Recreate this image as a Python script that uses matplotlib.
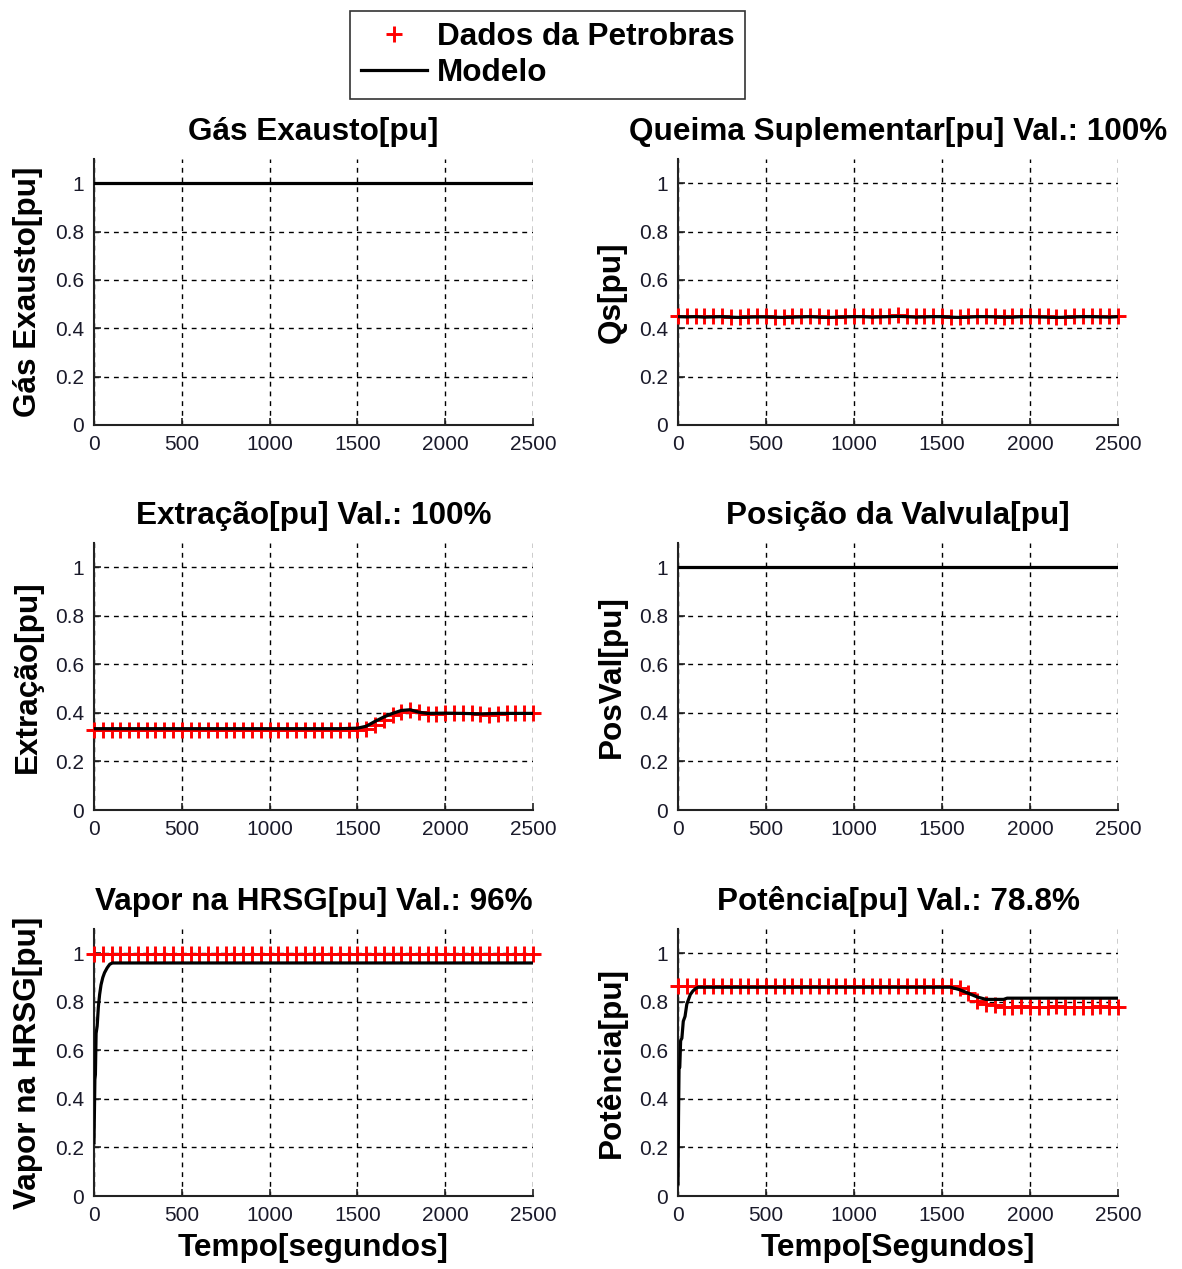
import matplotlib
matplotlib.use("Agg")
import matplotlib.pyplot as plt
from matplotlib.lines import Line2D

plt.rcParams['font.family'] = ['Liberation Sans', 'DejaVu Sans']

# Sample instants of the plant measurements [s]
t_data = [0, 50, 100, 150, 200, 250, 300, 350, 400, 450,
          500, 550, 600, 650, 700, 750, 800, 850, 900, 950,
          1000, 1050, 1100, 1150, 1200, 1250, 1300, 1350, 1400, 1450,
          1500, 1550, 1600, 1650, 1700, 1750, 1800, 1850, 1900, 1950,
          2000, 2050, 2100, 2150, 2200, 2250, 2300, 2350, 2400, 2450, 2500]

# Gas exhaust (model only)
gas_t = [0, 2500]
gas_model = [1.0, 1.0]

# Supplementary firing
qs_data = [0.452, 0.450, 0.451, 0.449, 0.450, 0.452, 0.448, 0.447, 0.449, 0.451,
           0.450, 0.448, 0.446, 0.449, 0.450, 0.451, 0.449, 0.447, 0.448, 0.450,
           0.452, 0.451, 0.449, 0.450, 0.452, 0.453, 0.451, 0.449, 0.450, 0.452,
           0.451, 0.448, 0.447, 0.449, 0.451, 0.452, 0.450, 0.448, 0.449, 0.451,
           0.452, 0.450, 0.449, 0.447, 0.448, 0.450, 0.451, 0.452, 0.450, 0.449, 0.451]
qs_model = [0.448, 0.447, 0.448, 0.446, 0.447, 0.448, 0.446, 0.445, 0.446, 0.447,
            0.447, 0.446, 0.445, 0.446, 0.447, 0.448, 0.446, 0.445, 0.446, 0.447,
            0.448, 0.448, 0.446, 0.447, 0.448, 0.449, 0.448, 0.446, 0.447, 0.448,
            0.448, 0.446, 0.445, 0.446, 0.448, 0.448, 0.447, 0.446, 0.446, 0.448,
            0.448, 0.447, 0.446, 0.445, 0.446, 0.447, 0.448, 0.448, 0.447, 0.446, 0.448]

# Extraction
ext_data = [0.330, 0.330, 0.330, 0.330, 0.330, 0.330, 0.330, 0.330, 0.330, 0.330,
            0.330, 0.330, 0.330, 0.330, 0.330, 0.330, 0.330, 0.330, 0.330, 0.330,
            0.330, 0.330, 0.330, 0.330, 0.330, 0.330, 0.330, 0.330, 0.330, 0.330,
            0.330, 0.335, 0.350, 0.370, 0.390, 0.405, 0.410, 0.405, 0.395, 0.395,
            0.400, 0.400, 0.398, 0.400, 0.395, 0.392, 0.395, 0.398, 0.400, 0.400, 0.400]
ext_t = [0, 1400, 1500, 1550, 1600, 1650, 1700, 1750, 1800, 1850, 1900,
         2000, 2100, 2200, 2300, 2500]
ext_model = [0.335, 0.335, 0.337, 0.345, 0.365, 0.383, 0.398, 0.410, 0.413, 0.403,
             0.398, 0.399, 0.398, 0.396, 0.398, 0.398]

# Valve position (model only)
val_t = [0, 2500]
val_model = [1.0, 1.0]

# Steam in the HRSG
vap_data = [0.995, 0.995, 0.995, 0.995, 0.995, 0.995, 0.995, 0.995, 0.995, 0.995,
            0.995, 0.995, 0.995, 0.995, 0.995, 0.995, 0.995, 0.995, 0.995, 0.995,
            0.995, 0.995, 0.995, 0.995, 0.995, 0.995, 0.995, 0.995, 0.995, 0.995,
            0.995, 0.995, 0.995, 0.995, 0.995, 0.995, 0.995, 0.995, 0.995, 0.995,
            0.995, 0.995, 0.995, 0.995, 0.995, 0.995, 0.995, 0.995, 0.995, 0.995, 0.995]
vap_t = [0, 5, 8, 12, 18, 25, 32, 40, 50, 60, 75, 90, 105, 2500]
vap_model = [0.22, 0.48, 0.50, 0.67, 0.70, 0.78, 0.83, 0.87, 0.90, 0.92, 0.94,
             0.955, 0.96, 0.96]

# Power
pot_data = [0.865, 0.865, 0.865, 0.865, 0.865, 0.865, 0.865, 0.865, 0.865, 0.865,
            0.865, 0.865, 0.865, 0.865, 0.865, 0.865, 0.865, 0.865, 0.865, 0.865,
            0.865, 0.865, 0.865, 0.865, 0.865, 0.865, 0.865, 0.865, 0.865, 0.865,
            0.865, 0.865, 0.855, 0.835, 0.805, 0.790, 0.785, 0.780, 0.780, 0.782,
            0.780, 0.778, 0.780, 0.782, 0.780, 0.780, 0.778, 0.780, 0.782, 0.780, 0.780]
pot_t = [0, 3, 6, 10, 15, 22, 30, 40, 50, 60, 70, 85, 100, 115,
         1550, 1600, 1650, 1700, 1750, 1850, 1870, 2500]
pot_model = [0.05, 0.33, 0.53, 0.53, 0.64, 0.65, 0.72, 0.74, 0.79, 0.81, 0.83,
             0.845, 0.855, 0.86, 0.86, 0.85, 0.835, 0.82, 0.81, 0.81, 0.815, 0.815]

x_ticks = [0, 500, 1000, 1500, 2000, 2500]
y_ticks = [0, 0.2, 0.4, 0.6, 0.8, 1]
y_ticklabels = ['0', '0.2', '0.4', '0.6', '0.8', '1']

panels = [
    dict(title='Gás Exausto[pu]', ylabel='Gás Exausto[pu]',
         mt=gas_t, my=gas_model, dy=None, xlabel=None),
    dict(title='Queima Suplementar[pu] Val.: 100%', ylabel='Qs[pu]',
         mt=t_data, my=qs_model, dy=qs_data, xlabel=None),
    dict(title='Extração[pu] Val.: 100%', ylabel='Extração[pu]',
         mt=ext_t, my=ext_model, dy=ext_data, xlabel=None),
    dict(title='Posição da Valvula[pu]', ylabel='PosVal[pu]',
         mt=val_t, my=val_model, dy=None, xlabel=None),
    dict(title='Vapor na HRSG[pu] Val.: 96%', ylabel='Vapor na HRSG[pu]',
         mt=vap_t, my=vap_model, dy=vap_data, xlabel='Tempo[segundos]'),
    dict(title='Potência[pu] Val.: 78.8%', ylabel='Potência[pu]',
         mt=pot_t, my=pot_model, dy=pot_data, xlabel='Tempo[Segundos]'),
]

W, H = 1182, 1269
fig = plt.figure(figsize=(W / 100, H / 100), dpi=100)

lefts = [94, 678]
widths = [439, 440]
tops = [159, 543, 929]
bottoms = [425, 810, 1196]

title_fs = 22.7
tick_fs = 15
tick_color = '#1a1a2a'

for i, p in enumerate(panels):
    r, c = divmod(i, 2)
    ax = fig.add_axes([lefts[c] / W, 1 - bottoms[r] / H,
                       widths[c] / W, (bottoms[r] - tops[r]) / H])
    if p['dy'] is not None:
        ax.plot(t_data, p['dy'], linestyle='none', marker='+', color='red',
                markersize=11.5, markeredgewidth=2.1, zorder=3, clip_on=False)
    ax.plot(p['mt'], p['my'], color='black', linewidth=2.3, zorder=4)
    ax.set_xlim(0, 2500)
    ax.set_ylim(0, 1.1)
    ax.set_xticks(x_ticks)
    ax.set_yticks(y_ticks)
    ax.set_yticklabels(y_ticklabels)
    ax.grid(True, color='black', linestyle=(0, (3.5, 3.5)), linewidth=1.0)
    ax.set_axisbelow(True)
    for s in ('top', 'right'):
        ax.spines[s].set_visible(False)
    for s in ('left', 'bottom'):
        ax.spines[s].set_linewidth(1.5)
        ax.spines[s].set_color('#222222')
    ax.tick_params(direction='in', length=5, width=1.2, labelsize=tick_fs,
                   labelcolor=tick_color, color='#222222', pad=7)
    ax.set_title(p['title'], fontsize=title_fs, fontweight='bold', pad=14)
    ax.set_ylabel(p['ylabel'], fontsize=title_fs, fontweight='bold', labelpad=9)
    if p['xlabel']:
        ax.set_xlabel(p['xlabel'], fontsize=title_fs, fontweight='bold', labelpad=6)

handles = [Line2D([], [], linestyle='none', marker='+', color='red',
                  markersize=11.5, markeredgewidth=2.1),
           Line2D([], [], color='black', linewidth=2.3)]
leg = fig.legend(handles, ['Dados da Petrobras', 'Modelo'],
                 loc='upper left', bbox_to_anchor=(350 / W, 1 - 11 / H),
                 prop=dict(size=title_fs, weight='bold'), fancybox=False,
                 framealpha=1, edgecolor='#333333', borderaxespad=0,
                 handlelength=2.1, handletextpad=0.3, labelspacing=0.2,
                 borderpad=0.35)
leg.get_frame().set_linewidth(1.2)

fig.savefig('out.png', dpi=100, facecolor='white')
